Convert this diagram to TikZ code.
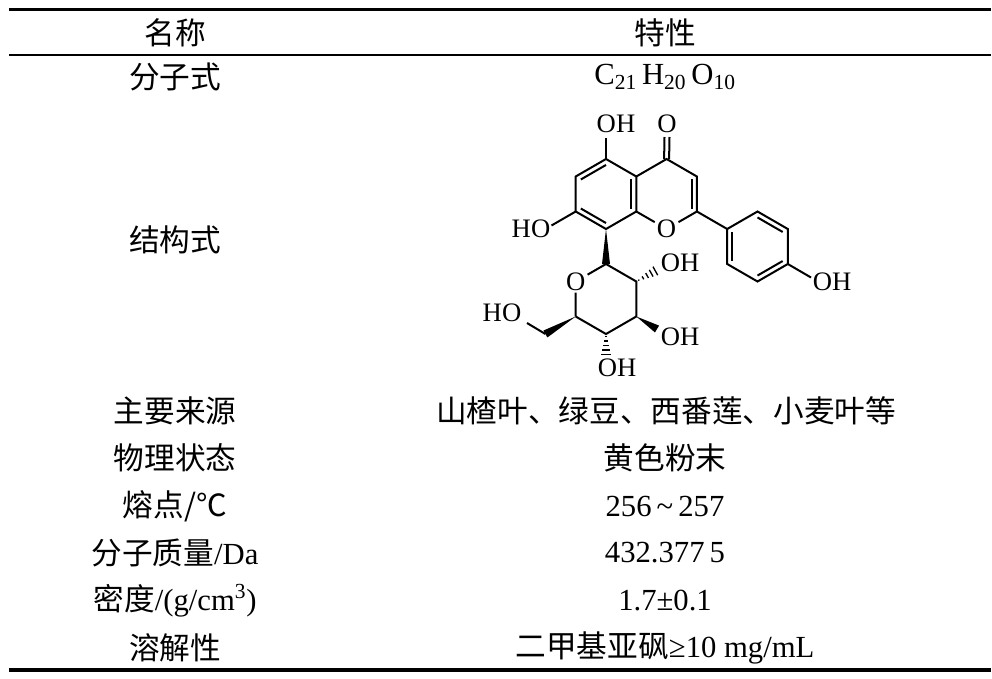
\documentclass[tikz,border=0pt]{standalone}
\usepackage{fontspec}
\setmainfont{Liberation Serif}
\newfontfamily\cjk{Noto Sans CJK SC}
\usepackage{tikz}
\usetikzlibrary{positioning,calc}
\tikzstyle{cell}=[inner sep=0pt,font=\fontsize{23}{27}\selectfont]
\tikzstyle{atom}=[inner sep=1.5pt,font=\fontsize{20}{23}\selectfont]
\tikzstyle{bond}=[line width=1.5pt]
\newcommand{\innerbond}[3]{\draw[bond] ($(#1)!0.17!(#3)$) -- ($(#2)!0.17!(#3)$);}
\newcommand{\wedgebond}[2]{\fill (#1) -- ($(#2)!3pt!90:(#1)$) -- ($(#2)!3pt!-90:(#1)$) -- cycle;}
\newcommand{\hashbond}[2]{%
  \foreach \t in {0.12,0.32,0.52,0.72,0.92}{%
    \draw[line width=1pt] ($(#1)!\t!(#2)!\t*4pt!90:(#2)$) -- ($(#1)!\t!(#2)!\t*4pt!-90:(#2)$);}}

\begin{document}
\begin{tikzpicture}[x=0.75pt,y=-0.75pt]
\useasboundingbox (0,0) rectangle (992,678);
% rules
\draw[line width=2.6pt] (9,9.5) -- (991,9.5);
\draw[line width=1.1pt] (9,55) -- (991,55);
\draw[line width=2.8pt] (9,670) -- (991,670);
% header and rows
\node[cell] (nameH) at (175,33) {\cjk 名称};
\node[cell] (propH) at (665,33) {\cjk 特性};
\node[cell] (formL) at (175,77) {\cjk 分子式};
\node[cell] (formR) at (665,77) {C\textsubscript{21}\,H\textsubscript{20}\,O\textsubscript{10}};
\node[cell] (structL) at (175,240) {\cjk 结构式};
\node[cell] (srcL) at (175,411) {\cjk 主要来源};
\node[cell] (srcR) at (666,411) {\cjk 山楂叶、绿豆、西番莲、小麦叶等};
\node[cell] (stateL) at (175,458) {\cjk 物理状态};
\node[cell] (stateR) at (665,458) {\cjk 黄色粉末};
\node[cell] (mpL) at (175,506) {\cjk 熔点/℃};
\node[cell] (mpR) at (665,506) {256\,\textasciitilde\,257};
\node[cell] (massL) at (175,553) {{\cjk 分子质量}/Da};
\node[cell] (massR) at (665,553) {432.377\,5};
\node[cell] (densL) at (175,601) {{\cjk 密度}/(g/cm\textsuperscript{3})};
\node[cell] (densR) at (665,601) {1.7±0.1};
\node[cell] (solL) at (175,648) {{\cjk 溶解性}};
\node[cell] (solR) at (665,648) {{\cjk 二甲基亚砜}≥10 mg/mL};
% ring A
\coordinate (ca) at (606,194);
\coordinate (c5) at (606,159);
\coordinate (c4a) at (636.3,176.5);
\coordinate (c8a) at (636.3,211.5);
\coordinate (c8) at (606,229);
\coordinate (c7) at (575.7,211.5);
\coordinate (c6) at (575.7,176.5);
% ring C
\coordinate (cc) at (666.6,194);
\coordinate (c4) at (666.6,159);
\coordinate (c3) at (696.9,176.5);
\coordinate (c2) at (696.9,211.5);
\node[atom] (o1) at (666.6,229) {O};
% ring B
\coordinate (cb) at (757.5,246.5);
\coordinate (b1) at (727.2,229);
\coordinate (b2) at (757.5,211.5);
\coordinate (b3) at (787.8,229);
\coordinate (b4) at (787.8,264);
\coordinate (b5) at (757.5,281.5);
\coordinate (b6) at (727.2,264);
% sugar
\coordinate (s1) at (606,264);
\coordinate (s2) at (636.3,281.5);
\coordinate (s3) at (636.3,316.5);
\coordinate (s4) at (606,334);
\coordinate (s5) at (575.7,316.5);
\coordinate (s6) at (545.4,334);
\node[atom] (o5) at (575.7,281.5) {O};
% substituents
\node[atom] (oh5) at (616,124) {OH};
\coordinate (oh5b) at (606,138);
\node[atom] (o4) at (667,124) {O};
\coordinate (o4b) at (667,137);
\node[atom] (oh7) at (531,229) {HO};
\coordinate (oh7b) at (551.5,225.5);
\node[atom] (oh4p) at (832,282) {OH};
\coordinate (oh4pb) at (811,277.5);
\node[atom] (oh2s) at (680,263) {OH};
\coordinate (oh2sb) at (657,270);
\node[atom] (oh3s) at (680,337) {OH};
\coordinate (oh3sb) at (657,329);
\node[atom] (oh4s) at (617,368) {OH};
\coordinate (oh4sb) at (606,356);
\node[atom] (oh6s) at (502,313) {HO};
\coordinate (oh6sb) at (527,323);
% bonds
\draw[bond] (c5) -- (c4a) -- (c8a) -- (c8) -- (c7) -- (c6) -- cycle;
\draw[bond] (c4a) -- (c4) -- (c3) -- (c2);
\draw[bond] (c8a) -- (o1) -- (c2);
\draw[bond] (c2) -- (b1);
\draw[bond] (b1) -- (b2) -- (b3) -- (b4) -- (b5) -- (b6) -- cycle;
\draw[bond] (s1) -- (s2) -- (s3) -- (s4) -- (s5);
\draw[bond] (s1) -- (o5) -- (s5);
\innerbond{c5}{c6}{ca}
\innerbond{c4a}{c8a}{ca}
\innerbond{c7}{c8}{ca}
\innerbond{c3}{c2}{cc}
\innerbond{b2}{b3}{cb}
\innerbond{b4}{b5}{cb}
\innerbond{b6}{b1}{cb}
\draw[bond] ($(c4)+(-2.5,0)$) -- ($(o4b)+(-2.5,0)$);
\draw[bond] ($(c4)+(2.5,0)$) -- ($(o4b)+(2.5,0)$);
\draw[bond] (c5) -- (oh5b);
\draw[bond] (c7) -- (oh7b);
\draw[bond] (b4) -- (oh4pb);
\draw[bond] (s6) -- (oh6sb);
\wedgebond{c8}{s1}
\wedgebond{s5}{s6}
\wedgebond{s3}{oh3sb}
\hashbond{s2}{oh2sb}
\hashbond{s4}{oh4sb}
\end{tikzpicture}
\end{document}
